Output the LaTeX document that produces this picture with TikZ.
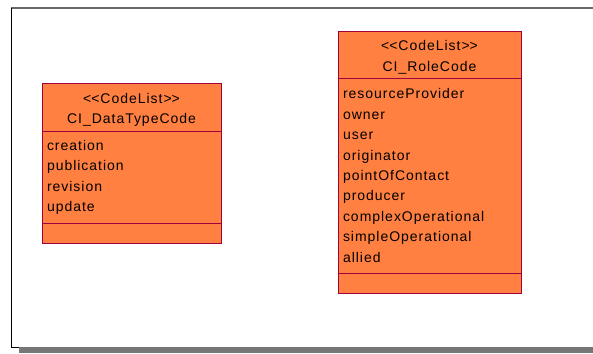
\documentclass[tikz,border=0pt]{standalone}
\usepackage{fontspec}
\setmainfont{Liberation Sans}[LetterSpace=7]
\usetikzlibrary{positioning}
\definecolor{umlfill}{RGB}{255,128,64}
\definecolor{umlborder}{RGB}{160,0,60}
\definecolor{framegray}{RGB}{105,105,105}
\definecolor{shadowgray}{RGB}{118,118,118}
\newcommand{\stereo}[1]{\rule{0pt}{16pt}\textless\kern0pt\textless#1\textgreater\kern0pt\textgreater}

\begin{document}
\begin{tikzpicture}[x=1pt, y=-1pt,
  every node/.style={font=\fontsize{14}{20.4}\selectfont, inner sep=0pt, outer sep=0pt},
  compart/.style={draw=umlborder, fill=umlfill, line width=0.9pt, anchor=north west},
  headbox/.style={compart, align=center},
  attrbox/.style={compart, align=left, inner xsep=5pt},
  opsbox/.style={compart, minimum height=20pt}
]
\useasboundingbox (0,0) rectangle (593,353);

% page frame and its shadow
\fill[shadowgray] (19,347) rectangle (593,353);
\draw[framegray, line width=2pt] (11,8.5) -- (593,8.5);
\draw[black, line width=1pt] (11,8) -- (11,347) -- (19,347);

% CI_DataTypeCode
\node[headbox, minimum width=179pt, minimum height=48.5pt] (dtHead) at (42,83) {\stereo{CodeList}\\CI\_DataTypeCode};
\node[attrbox, text width=169pt, minimum height=91.5pt, below=0pt of dtHead] (dtAttr) {creation\\publication\\revision\\update};
\node[opsbox, minimum width=179pt, below=0pt of dtAttr] (dtOps) {};

% CI_RoleCode
\node[headbox, minimum width=183pt, minimum height=47pt] (rcHead) at (338,31) {\stereo{CodeList}\\CI\_RoleCode};
\node[attrbox, text width=173pt, minimum height=195pt, below=0pt of rcHead] (rcAttr) {resourceProvider\\owner\\user\\originator\\pointOfContact\\producer\\complexOperational\\simpleOperational\\allied};
\node[opsbox, minimum width=183pt, below=0pt of rcAttr] (rcOps) {};
\end{tikzpicture}
\end{document}
